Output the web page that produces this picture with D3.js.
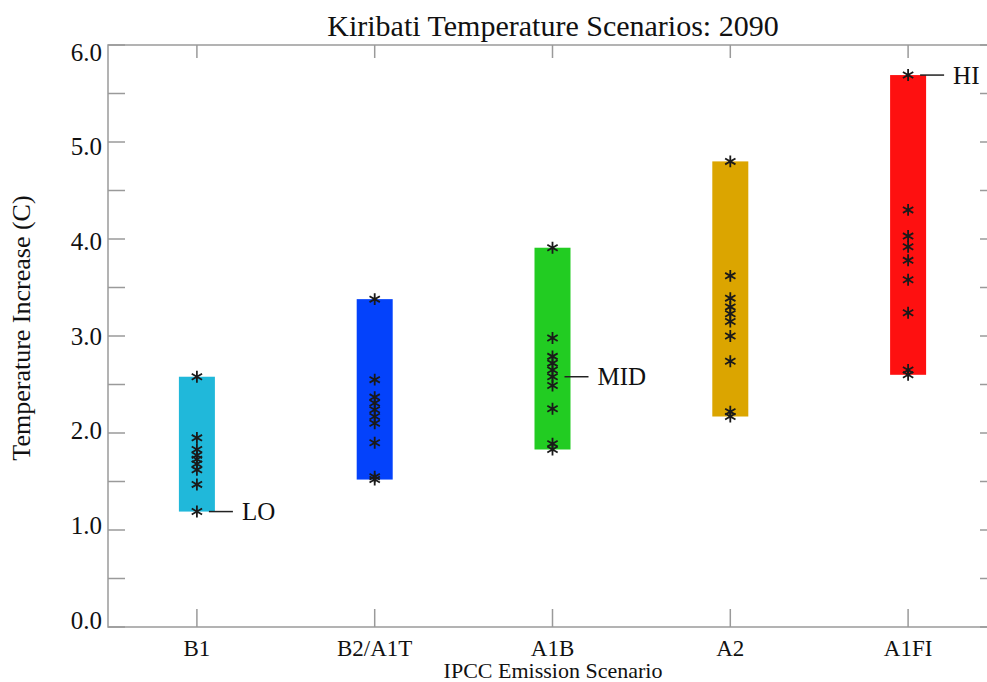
<!DOCTYPE html>
<html>
<head>
<meta charset="utf-8">
<script src="https://cdn.jsdelivr.net/npm/d3@7"></script>
<style>
body { margin: 0; background: #fff; }
text { font-family: "Liberation Serif", "Times New Roman", serif; fill: #111; }
</style>
</head>
<body>
<script>
var width = 987;
var height = 682;

// scenarios and colours
var scenarios = ["B1", "B2/A1T", "A1B", "A2", "A1FI"];
var barColors = ["#20b8da", "#0442fb", "#22cc22", "#dba500", "#fe1010"];

// model results for each scenario
var b1 = [2.58, 1.95, 1.83, 1.77, 1.73, 1.68, 1.62, 1.47, 1.19];
var b2a1t = [3.38, 2.55, 2.37, 2.31, 2.24, 2.17, 2.10, 1.90, 1.55, 1.52];
var a1b = [3.91, 2.98, 2.79, 2.72, 2.65, 2.58, 2.49, 2.25, 1.89, 1.83];
var a2 = [4.80, 3.62, 3.39, 3.30, 3.23, 3.15, 3.00, 2.74, 2.22, 2.17];
var a1fi = [5.69, 4.30, 4.03, 3.92, 3.78, 3.58, 3.24, 2.65, 2.60];
var values = [b1, b2a1t, a1b, a2, a1fi];

// LO / MID / HI markers
var markNames = ["LO", "MID", "HI"];
var markScenario = [0, 2, 4];
var markValues = [1.19, 2.58, 5.69];

var yTickValues = d3.range(0, 6.01, 0.5);
var yLabelValues = [0, 1, 2, 3, 4, 5, 6];

var svg = d3.select("body").append("svg")
  .attr("width", width)
  .attr("height", height);

svg.append("rect").attr("width", width).attr("height", height).attr("fill", "#fff");

var pLeft = 108, pRight = 997, pTop = 45, pBottom = 627;

var x = d3.scaleLinear().domain([0.5, 5.5]).range([pLeft, pRight]);
var y = d3.scaleLinear().domain([0, 6]).range([pBottom, pTop]);
// tick labels sit a bit inside the ends of the axis
var yLab = d3.scaleLinear().domain([0, 6]).range([620, 52]);

var barW = 36;

// bars
svg.selectAll("rect.bar")
  .data(values)
  .enter().append("rect")
  .attr("class", "bar")
  .attr("x", function (d, i) { return x(i + 1) - barW / 2; })
  .attr("y", function (d) { return y(d3.max(d)); })
  .attr("width", barW)
  .attr("height", function (d) { return y(d3.min(d)) - y(d3.max(d)); })
  .attr("fill", function (d, i) { return barColors[i]; });

// frame + ticks
var axisColor = "#9a9a9a";
var frame = svg.append("g").attr("stroke", axisColor).attr("stroke-width", 1.5).attr("fill", "none");
frame.append("rect")
  .attr("x", pLeft).attr("y", pTop)
  .attr("width", pRight - pLeft).attr("height", pBottom - pTop);

yTickValues.forEach(function (v) {
  frame.append("line").attr("x1", pLeft).attr("x2", pLeft + 17).attr("y1", y(v)).attr("y2", y(v));
  frame.append("line").attr("x1", pRight).attr("x2", pRight - 17).attr("y1", y(v)).attr("y2", y(v));
});
scenarios.forEach(function (s, i) {
  frame.append("line").attr("x1", x(i + 1)).attr("x2", x(i + 1)).attr("y1", pBottom).attr("y2", pBottom - 18);
  frame.append("line").attr("x1", x(i + 1)).attr("x2", x(i + 1)).attr("y1", pTop).attr("y2", pTop + 13);
});

// tick labels
svg.selectAll("text.ylab")
  .data(yLabelValues)
  .enter().append("text")
  .attr("class", "ylab")
  .attr("x", 102)
  .attr("y", function (d) { return yLab(d); })
  .attr("dy", "0.35em")
  .attr("text-anchor", "end")
  .style("font-size", "25px")
  .text(function (d) { return d3.format(".1f")(d); });

svg.selectAll("text.xlab")
  .data(scenarios)
  .enter().append("text")
  .attr("class", "xlab")
  .attr("x", function (d, i) { return x(i + 1); })
  .attr("y", 656)
  .attr("text-anchor", "middle")
  .style("font-size", "23px")
  .text(function (d) { return d; });

// stars
var star = d3.symbol().type(d3.symbolAsterisk).size(100);
values.forEach(function (vals, i) {
  svg.selectAll(null)
    .data(vals)
    .enter().append("path")
    .attr("d", star)
    .attr("transform", function (d) { return "translate(" + x(i + 1) + "," + y(d) + ")"; })
    .attr("fill", "none")
    .attr("stroke", "#1a1a1a")
    .attr("stroke-width", 1.8);
});

// LO / MID / HI labels
markNames.forEach(function (name, k) {
  var cx = x(markScenario[k] + 1);
  var cy = y(markValues[k]);
  svg.append("line")
    .attr("x1", cx + 12).attr("x2", cx + 36)
    .attr("y1", cy).attr("y2", cy)
    .attr("stroke", "#222").attr("stroke-width", 1.5);
  svg.append("text")
    .attr("x", cx + 45)
    .attr("y", cy)
    .attr("dy", "0.35em")
    .style("font-size", "25px")
    .text(name);
});

// titles
svg.append("text")
  .attr("x", 553).attr("y", 36)
  .attr("text-anchor", "middle")
  .style("font-size", "30px")
  .text("Kiribati Temperature Scenarios: 2090");

svg.append("text")
  .attr("x", 553).attr("y", 678)
  .attr("text-anchor", "middle")
  .style("font-size", "22px")
  .text("IPCC Emission Scenario");

svg.append("text")
  .attr("transform", "translate(30," + 328 + ") rotate(-90)")
  .attr("text-anchor", "middle")
  .style("font-size", "26px")
  .text("Temperature Increase (C)");
</script>
</body>
</html>
